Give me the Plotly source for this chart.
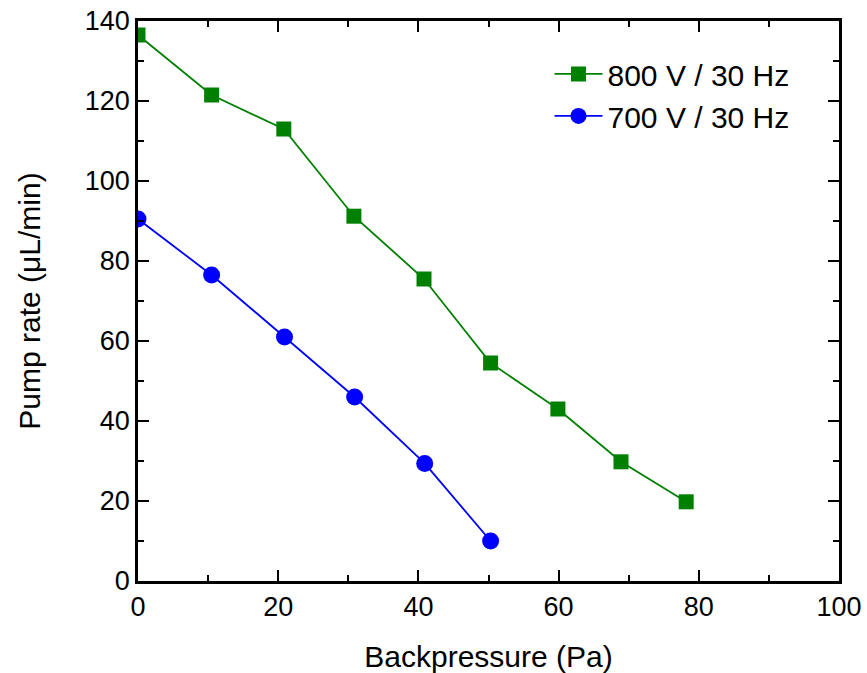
import plotly.graph_objects as go

x_800 = [0, 10.5, 20.8, 30.8, 40.8, 50.3, 59.9, 68.9, 78.2]
y_800 = [136.5, 121.5, 113, 91.2, 75.5, 54.5, 43, 29.8, 19.8]
x_700 = [0, 10.5, 20.9, 30.9, 40.9, 50.3]
y_700 = [90.5, 76.5, 61, 46, 29.4, 10]
name_800 = "800 V / 30 Hz"
name_700 = "700 V / 30 Hz"

FONT = "Liberation Sans, Arial"

fig = go.Figure()
fig.add_trace(go.Scatter(x=x_800, y=y_800, name=name_800, mode="lines+markers",
                         line=dict(color="rgb(0,128,0)", width=1.8),
                         marker=dict(symbol="square", size=15, color="rgb(0,128,0)")))
fig.add_trace(go.Scatter(x=x_700, y=y_700, name=name_700, mode="lines+markers",
                         line=dict(color="rgb(0,0,255)", width=1.8),
                         marker=dict(symbol="circle", size=17, color="rgb(0,0,255)")))

axis_common = dict(showline=True, linecolor="black", linewidth=2.5, mirror="ticks",
                   ticks="inside", ticklen=11, tickwidth=2, tickcolor="black",
                   showgrid=False, zeroline=False, automargin=False,
                   tickfont=dict(family=FONT, size=27, color="black"),
                   minor=dict(ticks="inside", ticklen=6, tickwidth=2, tickcolor="black", showgrid=False))

fig.update_xaxes(range=[0, 100], dtick=20, tick0=0,
                 title=dict(text="Backpressure (Pa)", font=dict(family=FONT, size=30, color="black"), standoff=25),
                 minor_dtick=10, **axis_common)
fig.update_yaxes(range=[0, 140], dtick=20, tick0=0,
                 title=dict(text="Pump rate (μL/min)", font=dict(family=FONT, size=30, color="black"), standoff=36),
                 minor_dtick=10, **axis_common)

fig.update_layout(width=867, height=673, margin=dict(l=138, r=28, t=21, b=92),
                  plot_bgcolor="white", paper_bgcolor="white",
                  legend=dict(x=0.587, y=0.952, xanchor="left", yanchor="top",
                              bgcolor="rgba(0,0,0,0)",
                              font=dict(family=FONT, size=30, color="black"),
                              itemwidth=48, tracegroupgap=0))

fig.write_html("out.html")
